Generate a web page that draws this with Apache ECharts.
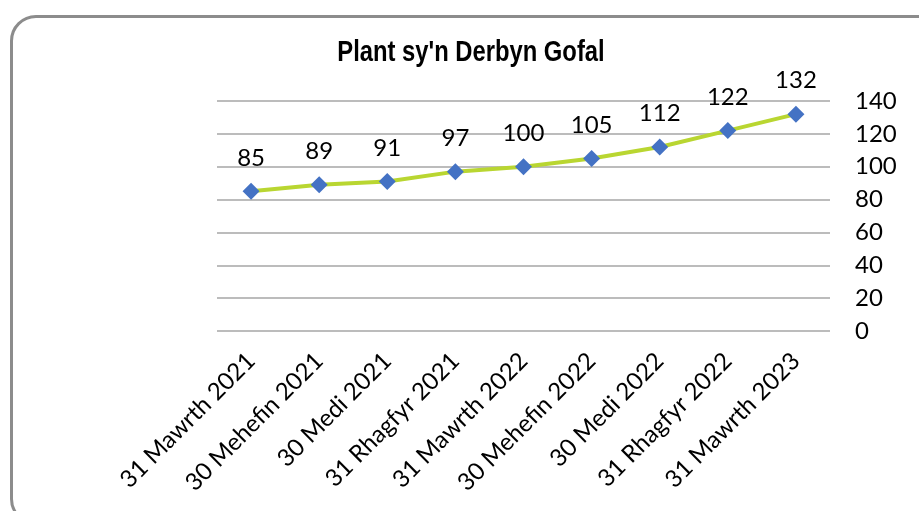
<!DOCTYPE html>
<html>
<head>
<meta charset="utf-8">
<script src="https://cdn.jsdelivr.net/npm/echarts@6/dist/echarts.min.js"></script>
<style>
  html, body { margin: 0; padding: 0; background: #fff; }
  #frame {
    position: absolute;
    left: 10px;
    top: 15px;
    width: 940px;
    height: 510px;
    border: 3px solid #8c8c8c;
    border-radius: 26px;
    box-sizing: border-box;
  }
  #main { position: absolute; left: 0; top: 0; width: 919px; height: 511px; }
</style>
</head>
<body>
<div id="frame"></div>
<div id="main"></div>
<script>
const categories = [
  '31 Mawrth 2021', '30 Mehefin 2021', '30 Medi 2021', '31 Rhagfyr 2021',
  '31 Mawrth 2022', '30 Mehefin 2022', '30 Medi 2022', '31 Rhagfyr 2022',
  '31 Mawrth 2023'
]
const children = [85, 89, 91, 97, 100, 105, 112, 122, 132]
const yTicks = { min: 0, max: 140, step: 20 }
const chartTitle = "Plant sy'n Derbyn Gofal"

const myChart = echarts.init(document.getElementById('main'))

const option = {
  animation: false,
  // title drawn as graphic text so it can be narrowed like Arial Narrow
  graphic: [
    {
      type: 'text',
      x: 471,
      y: 53,
      scaleX: 0.82,
      style: {
        text: chartTitle,
        fontFamily: 'Liberation Sans, Arial',
        fontWeight: 'bold',
        fontSize: 29,
        fill: '#000',
        textAlign: 'center',
        textVerticalAlign: 'middle'
      }
    }
  ],
  grid: {
    left: 217,
    right: 89,
    top: 101,
    bottom: 180
  },
  xAxis: {
    type: 'category',
    data: categories,
    boundaryGap: true,
    axisLine: { show: false },
    axisTick: { show: false },
    axisLabel: {
      rotate: 45,
      interval: 0,
      margin: 26,
      fontFamily: 'Lato, Open Sans, sans-serif',
      fontSize: 24,
      color: '#000'
    }
  },
  yAxis: {
    type: 'value',
    position: 'right',
    min: yTicks.min,
    max: yTicks.max,
    interval: yTicks.step,
    axisLine: { show: false },
    axisTick: { show: false },
    axisLabel: {
      margin: 25,
      fontFamily: 'Lato, Open Sans, sans-serif',
      fontSize: 24,
      color: '#000'
    },
    splitLine: {
      lineStyle: { color: '#a6a6a6', width: 1.5 }
    }
  },
  series: [
    {
      type: 'line',
      data: children,
      symbol: 'diamond',
      symbolSize: 17,
      lineStyle: { color: '#b9d631', width: 4 },
      itemStyle: { color: '#4472c4' },
      label: {
        show: true,
        position: 'top',
        distance: 13,
        fontFamily: 'Lato, Open Sans, sans-serif',
        fontSize: 24,
        color: '#000'
      }
    }
  ]
}

myChart.setOption(option)
</script>
</body>
</html>
